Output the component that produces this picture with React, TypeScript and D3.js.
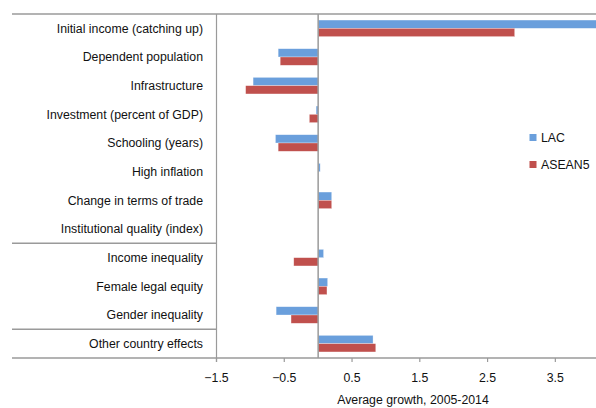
import * as d3 from 'd3';

const categories = [
  'Initial income (catching up)',
  'Dependent population',
  'Infrastructure',
  'Investment (percent of GDP)',
  'Schooling (years)',
  'High inflation',
  'Change in terms of trade',
  'Institutional quality (index)',
  'Income inequality',
  'Female legal equity',
  'Gender inequality',
  'Other country effects',
];
const seriesNames = ['LAC', 'ASEAN5'];
const lacValues = [4.3, -0.59, -0.96, -0.03, -0.63, 0.03, 0.2, 0, 0.08, 0.14, -0.62, 0.81];
const aseanValues = [2.9, -0.56, -1.07, -0.13, -0.59, 0, 0.2, 0, -0.36, 0.13, -0.4, 0.85];
const xTicks = [-1.5, -0.5, 0.5, 1.5, 2.5, 3.5];
const groupBreaks = [8, 11]; // separator lines drawn before these category indices

const colors = ['#6a9fdc', '#c0504d'];
const W = 596;
const H = 408;
const left = 216.5;
const top = 14;
const bottom = 358;
const labelX = 203;
const font = '"Liberation Sans", Arial, sans-serif';
const gray = '#9a9a9a';
const ink = '#111';

export default function App() {
  const x = d3.scaleLinear().domain([-1.5, 4.1]).range([left, W]);
  const y = d3.scaleBand<string>().domain(categories).range([top, bottom]).padding(0);
  const y1 = d3
    .scaleBand<string>()
    .domain(seriesNames)
    .range([0, y.bandwidth()])
    .paddingInner(0)
    .paddingOuter(0.73);

  const series = [lacValues, aseanValues];

  return (
    <svg
      width={W}
      height={H}
      style={{ position: 'absolute', left: 0, top: 0, background: '#fff' }}
      fontFamily={font}
    >
      <defs>
        <clipPath id="plot">
          <rect x={left} y={top} width={W - left} height={bottom - top} />
        </clipPath>
      </defs>

      {/* bars */}
      <g clipPath="url(#plot)">
        {series.map((vals, si) =>
          vals.map((v, i) => {
            if (v === 0) return null;
            const x0 = x(Math.min(0, v));
            const x1 = x(Math.max(0, v));
            return (
              <rect
                key={`${si}-${i}`}
                x={x0}
                y={y(categories[i])! + y1(seriesNames[si])!}
                width={x1 - x0}
                height={y1.bandwidth()}
                fill={colors[si]}
                stroke="rgba(255,255,255,0.5)"
                strokeWidth={0.6}
              />
            );
          }),
        )}
      </g>

      {/* frame lines */}
      <line x1={12} x2={W} y1={top} y2={top} stroke={gray} strokeWidth={1.5} />
      <line x1={12} x2={W} y1={bottom} y2={bottom} stroke={gray} strokeWidth={1.5} />
      {groupBreaks.map((b) => {
        const yy = y(categories[b])!;
        return <line key={b} x1={12} x2={left} y1={yy} y2={yy} stroke={gray} strokeWidth={1.5} />;
      })}
      <line x1={left} x2={left} y1={top} y2={bottom + 4} stroke={gray} strokeWidth={1.2} />
      <line x1={x(0)} x2={x(0)} y1={top} y2={bottom} stroke={gray} strokeWidth={1.5} />

      {/* category labels */}
      {categories.map((c) => (
        <text
          key={c}
          x={labelX}
          y={y(c)! + y.bandwidth() / 2}
          dy="0.35em"
          textAnchor="end"
          fontSize={12.3}
          fill={ink}
        >
          {c}
        </text>
      ))}

      {/* x ticks */}
      {xTicks.map((t) => (
        <g key={t}>
          <line x1={x(t)} x2={x(t)} y1={bottom} y2={bottom + 4} stroke={gray} strokeWidth={1.2} />
          <text x={x(t)} y={378} dy="0.35em" textAnchor="middle" fontSize={12.3} fill={ink}>
            {d3.format('.1f')(t)}
          </text>
        </g>
      ))}
      <text x={413} y={400} dy="0.35em" textAnchor="middle" fontSize={12.3} fill={ink}>
        Average growth, 2005-2014
      </text>

      {/* legend */}
      {seriesNames.map((s, i) => (
        <g key={s} transform={`translate(529.5, ${134 + i * 27})`}>
          <rect width={7} height={7} fill={colors[i]} />
          <text x={11.5} y={3.5} dy="0.35em" fontSize={12.3} fill={ink}>
            {s}
          </text>
        </g>
      ))}
    </svg>
  );
}
